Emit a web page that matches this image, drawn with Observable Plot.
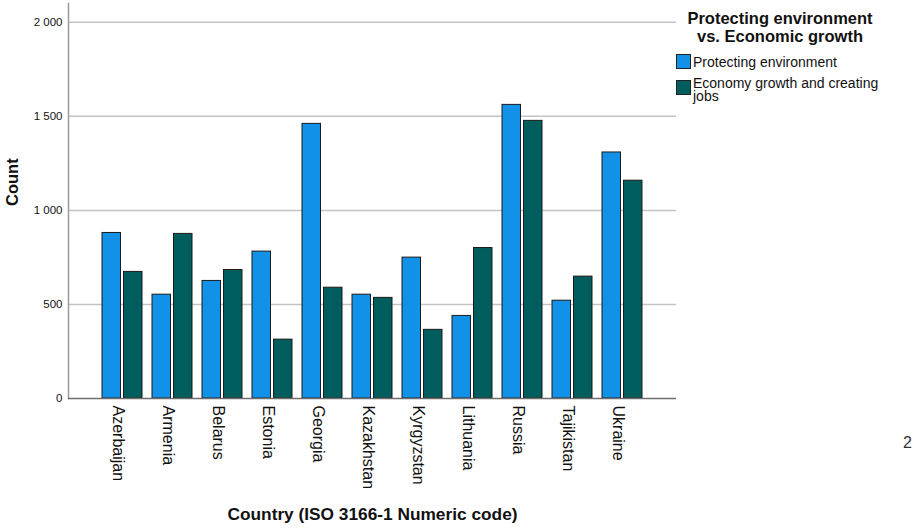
<!DOCTYPE html>
<html>
<head>
<meta charset="utf-8">
<script src="https://cdn.jsdelivr.net/npm/d3@7"></script>
<script src="https://cdn.jsdelivr.net/npm/@observablehq/plot@0.6"></script>
<style>
  html, body { margin: 0; padding: 0; background: #fff; overflow: hidden; }
  body { width: 913px; height: 529px; font-family: "Liberation Sans", Arial, sans-serif; color: #111; }
  #wrap { position: relative; width: 913px; height: 529px; overflow: hidden; }
  .legend-title { position: absolute; left: 672px; width: 216px; text-align: center; font-weight: bold; font-size: 16.5px; line-height: 18px; color: #111; white-space: nowrap; }
  .sw { position: absolute; width: 13px; height: 13px; border: 1px solid #222; }
  .lt { position: absolute; font-size: 14px; line-height: 13px; width: 196px; color: #111; }
  .stray { position: absolute; left: 903px; top: 434px; font-size: 16px; color: #333; }
</style>
</head>
<body>
<div id="wrap"></div>
<script>
const countries = ["Azerbaijan","Armenia","Belarus","Estonia","Georgia","Kazakhstan","Kyrgyzstan","Lithuania","Russia","Tajikistan","Ukraine"];
const protectingEnv = [880, 552, 625, 781, 1460, 552, 749, 439, 1561, 520, 1308];
const economyGrowth = [673, 875, 683, 313, 589, 535, 365, 800, 1476, 648, 1158];
const seriesNames = ["Protecting environment", "Economy growth and creating jobs"];
const seriesColors = ["#1192e8", "#005d5d"];
const yTicks = [0, 500, 1000, 1500, 2000];
const legendTitle = ["Protecting environment", "vs. Economic growth"];
const xTitle = "Country (ISO 3166-1 Numeric code)";
const yTitle = "Count";

const envRows = countries.map((c, i) => ({country: c, series: seriesNames[0], value: protectingEnv[i]}));
const ecoRows = countries.map((c, i) => ({country: c, series: seriesNames[1], value: economyGrowth[i]}));

const fmt = d => d3.format(",")(d).replace(/,/g, " ");

const chart = Plot.plot({
  width: 913,
  height: 529,
  marginLeft: 68,
  marginRight: 237,
  marginTop: 3,
  marginBottom: 131,
  style: {fontFamily: "Liberation Sans, Arial, sans-serif", color: "#111", background: "#fff"},
  x: {domain: countries, paddingInner: 0.2, paddingOuter: 0.62, label: null},
  y: {domain: [0, 2100], label: null},
  color: {domain: seriesNames, range: seriesColors},
  marks: [
    Plot.gridY(yTicks.slice(1), {stroke: "#c4c4c4", strokeOpacity: 1, strokeWidth: 1.5}),
    Plot.barY(envRows, {x: "country", y: "value", fill: "series", stroke: "#1b1b1b", strokeWidth: 1, insetRight: 21.5}),
    Plot.barY(ecoRows, {x: "country", y: "value", fill: "series", stroke: "#1b1b1b", strokeWidth: 1, insetLeft: 21.5}),
    Plot.frame({anchor: "left", stroke: "#9a9a9a", strokeWidth: 1.5}),
    Plot.ruleY([0], {stroke: "#6e6e6e", strokeWidth: 1.5}),
    Plot.axisY(yTicks, {tickSize: 0, tickPadding: 6, fontSize: 11.5, tickFormat: fmt, label: null}),
    Plot.axisX({tickSize: 0, tickPadding: 7, tickRotate: 90, fontSize: 16, dx: -4, label: null}),
    Plot.text([yTitle], {frameAnchor: "left", rotate: -90, dx: -56, dy: 5, fontWeight: "bold", fontSize: 16.5}),
    Plot.text([xTitle], {frameAnchor: "bottom", dy: 121, fontWeight: "bold", fontSize: 17.3})
  ]
});

const wrap = document.getElementById("wrap");
wrap.appendChild(chart);

legendTitle.forEach((line, i) => {
  const lt = document.createElement("div");
  lt.className = "legend-title";
  lt.style.top = (9 + i * 18) + "px";
  lt.textContent = line;
  wrap.appendChild(lt);
});

const swTops = [54, 80];
const txtTops = [56, 77];
seriesNames.forEach((name, i) => {
  const sw = document.createElement("div");
  sw.className = "sw";
  sw.style.left = "676px";
  sw.style.top = swTops[i] + "px";
  sw.style.background = seriesColors[i];
  wrap.appendChild(sw);
  const t = document.createElement("div");
  t.className = "lt";
  t.style.left = "693px";
  t.style.top = txtTops[i] + "px";
  t.textContent = name;
  wrap.appendChild(t);
});

const stray = document.createElement("div");
stray.className = "stray";
stray.textContent = "2";
wrap.appendChild(stray);
</script>
</body>
</html>
